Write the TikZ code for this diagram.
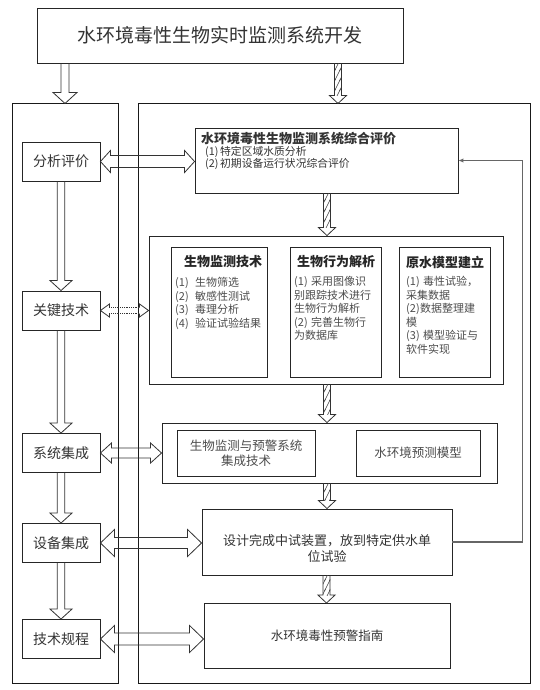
\documentclass[tikz,border=0pt]{standalone}
\usepackage{fontspec}
\newfontfamily\song{Noto Sans CJK SC}
\newcommand\songb{\song\bfseries}
\newcommand\nb[2][15pt]{\makebox[#1][l]{#2}}
\usetikzlibrary{calc,arrows.meta,patterns.meta}
\tikzdeclarepattern{name=hatchx, type=uncolored,
  bounding box={(-1pt,-1.5pt) and (6pt,11.5pt)},
  tile size={(5pt,10pt)},
  code={\draw[line width=0.6pt] (-0.5pt,-1pt) -- (5.5pt,11pt);}}
% vertical hollow arrow: start, end, shaft half, head half, head length
\newcommand\vhollow[5]{%
  \draw[arrowline] let \p1=#1, \p2=#2 in
   (\x1-#3,\y1) -- (\x1-#3,\y2+#5) -- (\x1-#4,\y2+#5) -- (\x1,\y2) --
   (\x1+#4,\y2+#5) -- (\x1+#3,\y2+#5) -- (\x1+#3,\y1);}
\newcommand\vhatch[2]{%
  \fill[pattern=hatchx, pattern color=black!75] let \p1=#1, \p2=#2 in
   (\x1-3.5pt,\y1) rectangle (\x1+3.5pt,\y2+8pt);
  \vhollow{#1}{#2}{3.5pt}{8.5pt}{8pt}}
% horizontal double hollow arrow
\newcommand\hdouble[5]{%
  \draw[arrowline] let \p1=#1, \p2=#2 in
   (\x1,\y1) -- (\x1+#5,\y1+#4) -- (\x1+#5,\y1+#3) -- (\x2-#5,\y1+#3) --
   (\x2-#5,\y1+#4) -- (\x2,\y1) -- (\x2-#5,\y1-#4) -- (\x2-#5,\y1-#3) --
   (\x1+#5,\y1-#3) -- (\x1+#5,\y1-#4) -- cycle;}
\newcommand\hdoubledot[5]{%
  \draw[arrowline] let \p1=#1, \p2=#2 in
   (\x1+#5,\y1+#3) -- (\x1+#5,\y1+#4) -- (\x1,\y1) -- (\x1+#5,\y1-#4) -- (\x1+#5,\y1-#3)
   (\x2-#5,\y1+#3) -- (\x2-#5,\y1+#4) -- (\x2,\y1) -- (\x2-#5,\y1-#4) -- (\x2-#5,\y1-#3);
  \draw[arrowline, densely dotted] let \p1=#1, \p2=#2 in
   (\x1+#5,\y1+#3) -- (\x2-#5,\y1+#3) (\x1+#5,\y1-#3) -- (\x2-#5,\y1-#3);}
\begin{document}
\begin{tikzpicture}[x=1pt,y=-1pt,
  box/.style={draw=black!85, line width=0.9pt, inner sep=0pt, rectangle, text=black!80},
  panel/.style={draw=black!90, line width=1pt},
  arrowline/.style={draw=black!80, line width=0.8pt, line join=miter},
  fb/.style={draw=black!60, line width=1.1pt, -{Latex[length=5pt,width=4.5pt]}},
  lbl/.style={font=\song\fontsize{14}{16}\selectfont},
  ttl/.style={inner sep=0pt, font=\songb\fontsize{13}{15}\selectfont, text=black!85},
  items/.style={anchor=north west, inner sep=0pt, align=left, font=\song\fontsize{11}{13.6}\selectfont, text=black!70}]
\useasboundingbox (0,0) rectangle (540,690);

% top
\node[box, minimum width=366pt, minimum height=55pt, font=\song\fontsize{19}{22}\selectfont] (top) at (220,35.5) {水环境毒性生物实时监测系统开发};
% panels
\node[box, panel, minimum width=106pt, minimum height=579pt] (lp) at (65,393.5) {};
\node[box, panel, minimum width=392pt, minimum height=579pt] (rp) at (334,393.5) {};

% left column
\node[box, lbl, minimum width=78pt, minimum height=39pt] (fx) at (61,161.5) {分析评价};
\node[box, lbl, minimum width=78pt, minimum height=39pt] (gj) at (61,310.5) {关键技术};
\node[box, lbl, minimum width=78pt, minimum height=39pt] (xt) at (61,453) {系统集成};
\node[box, lbl, minimum width=78pt, minimum height=39pt] (sb) at (61,543) {设备集成};
\node[box, lbl, minimum width=78pt, minimum height=39pt] (js) at (61,639) {技术规程};

% evaluation box
\node[box, minimum width=263pt, minimum height=65pt] (ev) at (326.5,160.5) {};
\node[anchor=north west, inner sep=0pt, align=left, text=black!80, font=\song\fontsize{10.8}{12}\selectfont] (evt) at (201,132)
 {{\songb\fontsize{13}{15}\selectfont 水环境毒性生物监测系统综合评价}\\\hspace*{4pt}\nb[15pt]{(1)}特定区域水质分析\\\hspace*{4pt}\nb[15pt]{(2)}初期设备运行状况综合评价};

% middle box
\node[box, minimum width=354pt, minimum height=148pt] (mid) at (326,310) {};
\node[box, minimum width=96pt, minimum height=130pt] (s1) at (219,312) {};
\node[box, minimum width=91pt, minimum height=130pt] (s2) at (335.5,312) {};
\node[box, minimum width=91pt, minimum height=130pt] (s3) at (444.5,312) {};
\node[ttl] (s1t) at (223,262) {生物监测技术};
\node[ttl] (s2t) at (336,262) {生物行为解析};
\node[ttl] (s3t) at (445,262) {原水模型建立};
\node[items] (s1i) at (175,277) {\nb[20pt]{(1)}生物筛选\\\nb[20pt]{(2)}敏感性测试\\\nb[20pt]{(3)}毒理分析\\\nb[20pt]{(4)}验证试验结果};
\node[items] (s2i) at (294,276) {\nb[17pt]{(1)}采用图像识\\别跟踪技术进行\\生物行为解析\\\nb[17pt]{(2)}完善生物行\\为数据库};
\node[items] (s3i) at (406,276) {\nb[17pt]{(1)}毒性试验，\\采集数据\\\nb[14pt]{(2)}数据整理建\\模\\\nb[17pt]{(3)}模型验证与\\软件实现};

% integration
\node[box, minimum width=335pt, minimum height=60pt] (ig) at (329.5,453) {};
\node[box, minimum width=138pt, minimum height=46pt, align=center, text=black!70, font=\song\fontsize{12.5}{15}\selectfont] (ig1) at (246,453) {生物监测与预警系统\\集成技术};
\node[box, minimum width=124pt, minimum height=46pt, text=black!70, font=\song\fontsize{12.5}{15}\selectfont] (ig2) at (418,453) {水环境预测模型};

% pilot
\node[box, minimum width=250pt, minimum height=66pt] (sj) at (327,542) {};
\node[align=center, inner sep=0pt, text=black!80, font=\song\fontsize{13}{16}\selectfont] (sjt) at (327,548) {设计完成中试装置，放到特定供水单\\位试验};
% guide
\node[box, minimum width=246pt, minimum height=65pt, font=\song\fontsize{12.5}{15}\selectfont] (zn) at (327,636) {水环境毒性预警指南};

% arrows from top
\vhollow{([xshift=-155pt]top.south)}{(lp.north)}{4pt}{12pt}{11pt}
\vhatch{([xshift=118pt]top.south)}{(rp.north)}

% right column hatched arrows
\vhatch{([xshift=0.5pt]ev.south)}{(mid.north)}
\vhatch{([xshift=1pt]mid.south)}{(ig.north)}
\vhatch{([xshift=-2.5pt]ig.south)}{(sj.north)}
\vhatch{([xshift=-0.5pt]sj.south)}{(zn.north)}

% left column arrows
\vhollow{(fx.south)}{(gj.north)}{3.7pt}{11pt}{10pt}
\vhollow{(gj.south)}{(xt.north)}{3.7pt}{11pt}{10pt}
\vhollow{(xt.south)}{(sb.north)}{3.7pt}{11pt}{10pt}
\vhollow{(sb.south)}{(js.north)}{3.7pt}{11pt}{10pt}

% horizontal double arrows
\hdouble{(fx.east)}{(ev.west)}{6pt}{11pt}{10pt}
\hdoubledot{(gj.east)}{(mid.west)}{3pt}{6.5pt}{9pt}
\hdouble{(xt.east)}{(ig.west)}{5pt}{10pt}{11pt}
\hdouble{(sb.east)}{(sj.west)}{5.5pt}{13.5pt}{14pt}
\hdouble{(js.east)}{(zn.west)}{6pt}{13.5pt}{14pt}

% feedback
\draw[fb] (sj.east) -- ([xshift=70pt]sj.east) |- (ev.east);
\end{tikzpicture}
\end{document}
